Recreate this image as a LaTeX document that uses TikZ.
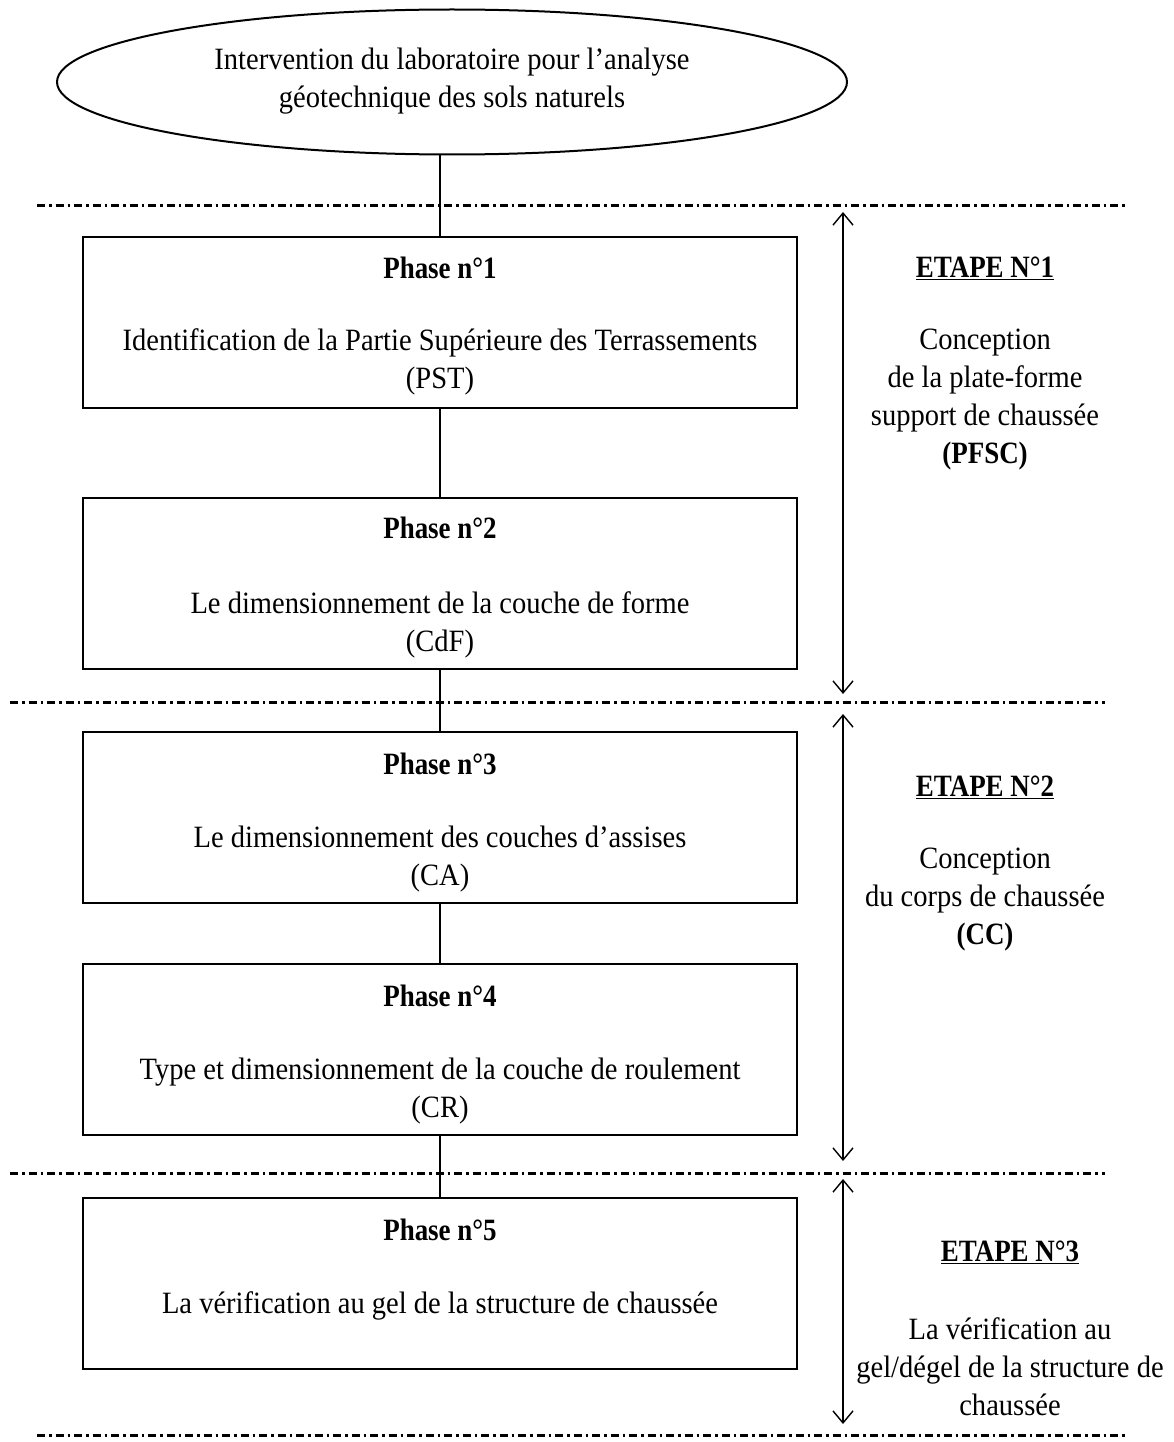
\documentclass[tikz,border=0pt]{standalone}
\usepackage{fontspec}
\setmainfont{Liberation Serif}[FakeStretch=0.92, BoldFeatures={FakeStretch=0.87}]
\usetikzlibrary{shapes.geometric,arrows.meta}
\begin{document}
\begin{tikzpicture}[x=1pt,y=-1pt,
  txt/.style={font=\fontsize{31}{38}\selectfont, align=center, inner sep=0pt, text=black},
  boldtxt/.style={txt, font=\fontsize{31}{38}\selectfont\bfseries},
  phasebox/.style={draw, line width=2.2pt, minimum width=714pt, minimum height=171pt, inner sep=0pt},
  sepline/.style={line width=3pt, dash pattern=on 8pt off 4pt on 2.5pt off 4pt},
  span/.style={line width=1.4pt, {Straight Barb[length=12pt,width=20pt]}-{Straight Barb[length=12pt,width=20pt]}},
  link/.style={line width=1.6pt}]
\useasboundingbox (0,0) rectangle (1173,1442);
% top ellipse
\node[ellipse, draw, line width=2pt, minimum width=790pt, minimum height=145pt, inner sep=0pt] (ell) at (452,82) {};
\node[txt] (elltxt) at (452,81) {Intervention du laboratoire pour l'analyse\\géotechnique des sols naturels};
% separator lines
\coordinate (s1a) at (37,205);  \coordinate (s1b) at (1128,205);
\coordinate (s2a) at (10,702);  \coordinate (s2b) at (1105,702);
\coordinate (s3a) at (10,1173); \coordinate (s3b) at (1105,1173);
\coordinate (s4a) at (37,1435); \coordinate (s4b) at (1128,1435);
\draw[sepline] (s1a) -- (s1b);
\draw[sepline] (s2a) -- (s2b);
\draw[sepline] (s3a) -- (s3b);
\draw[sepline] (s4a) -- (s4b);
% boxes
\node[phasebox] (b1) at (440,322.5) {};
\node[phasebox] (b2) at (440,583.5) {};
\node[phasebox] (b3) at (440,817.5) {};
\node[phasebox] (b4) at (440,1049.5) {};
\node[phasebox] (b5) at (440,1283.5) {};
% connectors
\draw[link] (b1.north |- ell.south) -- (b1.north);
\draw[link] (b1.south) -- (b2.north);
\draw[link] (b2.south) -- (b3.north);
\draw[link] (b3.south) -- (b4.north);
\draw[link] (b4.south) -- (b5.north);
% box texts
\node[boldtxt] (p1) at (440,268) {Phase n°1};
\node[txt] (t1) at (440,362) {Identification de la Partie Supérieure des Terrassements\\(PST)};
\node[boldtxt] (p2) at (440,528) {Phase n°2};
\node[txt] (t2) at (440,625) {Le dimensionnement de la couche de forme\\(CdF)};
\node[boldtxt] (p3) at (440,764) {Phase n°3};
\node[txt] (t3) at (440,859) {Le dimensionnement des couches d'assises\\(CA)};
\node[boldtxt] (p4) at (440,996) {Phase n°4};
\node[txt] (t4) at (440,1091) {Type et dimensionnement de la couche de roulement\\(CR)};
\node[boldtxt] (p5) at (440,1230) {Phase n°5};
\node[txt] (t5) at (440,1306) {La vérification au gel de la structure de chaussée};
% span arrows
\coordinate (a1t) at (843,212);  \coordinate (a1b) at (843,694);
\coordinate (a2t) at (843,714);  \coordinate (a2b) at (843,1161);
\coordinate (a3t) at (843,1179); \coordinate (a3b) at (843,1424);
\draw[span] (a1t) -- (a1b);
\draw[span] (a2t) -- (a2b);
\draw[span] (a3t) -- (a3b);
% etape texts
\node[boldtxt] (e1) at (985,268) {\underline{ETAPE N°1}};
\node[txt] (e1t) at (985,400) {Conception\\de la plate-forme\\support de chaussée\\\textbf{(PFSC)}};
\node[boldtxt] (e2) at (985,787) {\underline{ETAPE N°2}};
\node[txt] (e2t) at (985,900) {Conception\\du corps de chaussée\\\textbf{(CC)}};
\node[boldtxt] (e3) at (1010,1252) {\underline{ETAPE N°3}};
\node[txt] (e3t) at (1010,1367) {La vérification au\\gel/dégel de la structure de\\chaussée};
\end{tikzpicture}
\end{document}
